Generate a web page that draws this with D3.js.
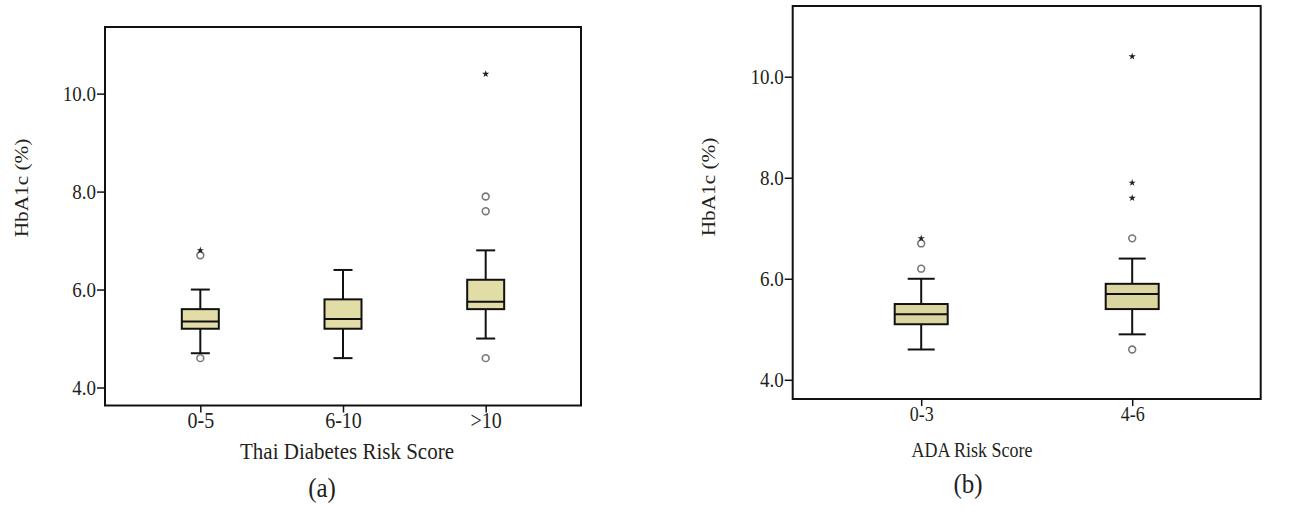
<!DOCTYPE html>
<html>
<head>
<meta charset="utf-8">
<script src="https://cdn.jsdelivr.net/npm/d3@7"></script>
<style>
  body { margin: 0; background: #fff; }
  text { font-family: "Liberation Serif", "Times New Roman", serif; fill: #231f20; }
</style>
</head>
<body>
<svg id="chart"></svg>
<script>
// panel (a) - Thai Diabetes Risk Score
var thaiGroups = ["0-5", "6-10", ">10"];
var thaiLow = [4.7, 4.6, 5.0];
var thaiQ1 = [5.2, 5.2, 5.6];
var thaiMedian = [5.35, 5.4, 5.75];
var thaiQ3 = [5.6, 5.8, 6.2];
var thaiHigh = [6.0, 6.4, 6.8];
var thaiOutliers = [["0-5", 4.6], ["0-5", 6.7], [">10", 4.6], [">10", 7.6], [">10", 7.9]];
var thaiExtremes = [["0-5", 6.8], [">10", 10.4]];

// panel (b) - ADA Risk Score
var adaGroups = ["0-3", "4-6"];
var adaLow = [4.6, 4.9];
var adaQ1 = [5.1, 5.4];
var adaMedian = [5.3, 5.7];
var adaQ3 = [5.5, 5.9];
var adaHigh = [6.0, 6.4];
var adaOutliers = [["0-3", 6.2], ["0-3", 6.7], ["4-6", 6.8], ["4-6", 4.6]];
var adaExtremes = [["0-3", 6.8], ["4-6", 7.6], ["4-6", 7.9], ["4-6", 10.4]];

var yTicks = [4, 6, 8, 10];

var width = 1309, height = 517;
var stretch = 1.12; // the scanned figure has slightly tall lettering
var svg = d3.select("#chart").attr("width", width).attr("height", height);

// move x/y into a transform so text can be stretched vertically around its anchor
function tallText(sel, rot) {
    sel.each(function () {
        var t = d3.select(this);
        var tx = +t.attr("x") || 0, ty = +t.attr("y") || 0;
        t.attr("x", 0).attr("y", 0)
            .attr("transform", "translate(" + tx + "," + ty + ")" + (rot ? " rotate(-90)" : "") +
                (rot ? " scale(" + stretch + ",1)" : " scale(1," + stretch + ")"));
    });
}

function drawPanel(p) {
    var x = d3.scalePoint().domain(p.groups).range([p.left, p.right]).padding(p.pad);
    var y = d3.scaleLinear().domain(p.yDomain).range([p.bottom, p.top]);

    var g = svg.append("g");

    // frame
    g.append("rect")
        .attr("x", p.left).attr("y", p.top)
        .attr("width", p.right - p.left).attr("height", p.bottom - p.top)
        .attr("fill", "none").attr("stroke", "#111").attr("stroke-width", 2);

    // y axis
    var yAxis = g.append("g")
        .attr("transform", "translate(" + p.left + ",0)")
        .call(d3.axisLeft(y).tickValues(yTicks).tickFormat(d3.format(".1f")).tickSize(8).tickPadding(1));
    yAxis.select(".domain").remove();
    yAxis.selectAll("line").attr("stroke", "#111").attr("stroke-width", 1.5);
    yAxis.selectAll("text").style("font-size", p.yTickFont + "px").attr("fill", "#231f20")
        .style("font-family", "Liberation Serif").call(tallText);

    // x axis
    var xAxis = g.append("g")
        .attr("transform", "translate(0," + p.bottom + ")")
        .call(d3.axisBottom(x).tickSize(7).tickPadding(p.xTickPad));
    xAxis.select(".domain").remove();
    xAxis.selectAll("line").attr("stroke", "#111").attr("stroke-width", 1.5);
    xAxis.selectAll("text").style("font-size", p.xTickFont + "px").attr("fill", "#231f20")
        .style("font-family", "Liberation Serif").call(tallText);

    // boxes
    var rows = p.groups.map(function (d, i) {
        return { group: d, low: p.low[i], q1: p.q1[i], med: p.median[i], q3: p.q3[i], high: p.high[i] };
    });
    var box = g.selectAll(".box").data(rows).enter().append("g").attr("class", "box");

    box.append("line")
        .attr("x1", function (d) { return x(d.group); }).attr("x2", function (d) { return x(d.group); })
        .attr("y1", function (d) { return y(d.low); }).attr("y2", function (d) { return y(d.high); })
        .attr("stroke", "#111").attr("stroke-width", 2);
    ["low", "high"].forEach(function (k) {
        box.append("line")
            .attr("x1", function (d) { return x(d.group) - p.capW / 2; })
            .attr("x2", function (d) { return x(d.group) + p.capW / 2; })
            .attr("y1", function (d) { return y(d[k]); }).attr("y2", function (d) { return y(d[k]); })
            .attr("stroke", "#111").attr("stroke-width", 2);
    });
    box.append("rect")
        .attr("x", function (d) { return x(d.group) - p.boxW / 2; })
        .attr("y", function (d) { return y(d.q3); })
        .attr("width", p.boxW)
        .attr("height", function (d) { return y(d.q1) - y(d.q3); })
        .attr("fill", p.fill).attr("stroke", "#111").attr("stroke-width", 2);
    box.append("line")
        .attr("x1", function (d) { return x(d.group) - p.boxW / 2; })
        .attr("x2", function (d) { return x(d.group) + p.boxW / 2; })
        .attr("y1", function (d) { return y(d.med); }).attr("y2", function (d) { return y(d.med); })
        .attr("stroke", "#111").attr("stroke-width", 2);

    // outliers (circles) and extremes (stars)
    g.selectAll(".outlier").data(p.outliers).enter().append("circle")
        .attr("cx", function (d) { return x(d[0]); })
        .attr("cy", function (d) { return y(d[1]); })
        .attr("r", 3.4)
        .attr("fill", "#fff").attr("stroke", "#777").attr("stroke-width", 1.6);
    g.selectAll(".extreme").data(p.extremes).enter().append("path")
        .attr("transform", function (d) { return "translate(" + x(d[0]) + "," + y(d[1]) + ")"; })
        .attr("d", d3.symbol().type(d3.symbolStar).size(16))
        .attr("fill", "#222");

    // labels
    g.append("text")
        .attr("x", p.yLabelX).attr("y", p.yLabelY)
        .attr("text-anchor", "middle").attr("dy", "0.35em")
        .style("font-size", p.yLabelFont + "px")
        .text("HbA1c (%)")
        .call(tallText, true);
    g.append("text")
        .attr("x", p.titleX).attr("y", p.titleY)
        .attr("text-anchor", "middle")
        .style("font-size", p.titleFont + "px")
        .text(p.title)
        .call(tallText);
    g.append("text")
        .attr("x", p.tagX).attr("y", p.tagY)
        .attr("text-anchor", "middle")
        .style("font-size", "25px")
        .text(p.tag)
        .call(tallText);
}

drawPanel({
    groups: thaiGroups, low: thaiLow, q1: thaiQ1, median: thaiMedian, q3: thaiQ3, high: thaiHigh,
    outliers: thaiOutliers, extremes: thaiExtremes,
    left: 105, right: 581, top: 27, bottom: 405.5, pad: 0.668, yDomain: [3.633, 11.36],
    boxW: 37, capW: 19, fill: "#e2dca6",
    yTickFont: 19, xTickFont: 20, xTickPad: 0,
    yLabelX: 21, yLabelY: 188, yLabelFont: 19,
    title: "Thai Diabetes Risk Score", titleX: 347, titleY: 459, titleFont: 21,
    tag: "(a)", tagX: 322, tagY: 497
});

drawPanel({
    groups: adaGroups, low: adaLow, q1: adaQ1, median: adaMedian, q3: adaQ3, high: adaHigh,
    outliers: adaOutliers, extremes: adaExtremes,
    left: 792.7, right: 1260.7, top: 6, bottom: 399, pad: 0.609, yDomain: [3.62, 11.40],
    boxW: 53, capW: 27, fill: "#dbd5a0",
    yTickFont: 19, xTickFont: 18, xTickPad: 1,
    yLabelX: 708, yLabelY: 187, yLabelFont: 19,
    title: "ADA Risk Score", titleX: 972, titleY: 457, titleFont: 18,
    tag: "(b)", tagX: 968, tagY: 493
});
</script>
</body>
</html>
